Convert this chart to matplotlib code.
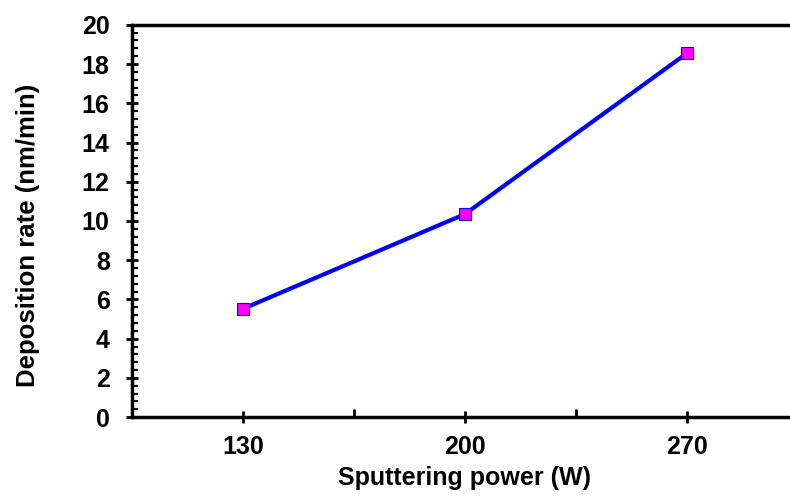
import matplotlib.pyplot as plt
from matplotlib.ticker import MultipleLocator, FixedLocator

plt.rcParams['font.family'] = 'Liberation Sans'
plt.rcParams['font.weight'] = 'bold'

# 数据
power = ["130", "200", "270"]
rate = [5.52, 10.35, 18.55]

fig = plt.figure(figsize=(7.9, 4.96), dpi=100)
ax = fig.add_axes([0.167, 0.159, 0.843, 0.791])

pos = list(range(len(power)))
ax.plot(pos, rate, color='#0000ff', linewidth=3, marker='s', markersize=8.5,
        markerfacecolor='#ff00ff', markeredgecolor='#0000ff', markeredgewidth=0.8, clip_on=False)

ax.set_xlim(-0.5, 2.5)
ax.set_ylim(0, 20)
ax.set_xticks(pos)
ax.set_xticklabels(power)
ax.xaxis.set_minor_locator(FixedLocator([0.5, 1.5]))
ax.yaxis.set_major_locator(MultipleLocator(2))
ax.yaxis.set_minor_locator(MultipleLocator(0.4))

for s in ['left', 'bottom', 'top']:
    ax.spines[s].set_linewidth(2.5)
ax.spines['right'].set_visible(False)

ax.tick_params(axis='both', which='major', direction='inout', length=8, width=2,
               labelsize=18)
ax.tick_params(axis='y', which='major', pad=12)
ax.tick_params(axis='x', which='major', pad=9)
ax.tick_params(axis='y', which='minor', direction='in', length=4, width=1.5)
ax.tick_params(axis='x', which='minor', direction='in', length=6, width=2)

ax.set_xlabel("Sputtering power (W)", fontsize=18, fontweight='bold', labelpad=5)
ax.set_ylabel("Deposition rate (nm/min)", fontsize=18.5, fontweight='bold')
ax.yaxis.set_label_coords(-0.138, 0.464)

plt.savefig("out.png", dpi=100)
